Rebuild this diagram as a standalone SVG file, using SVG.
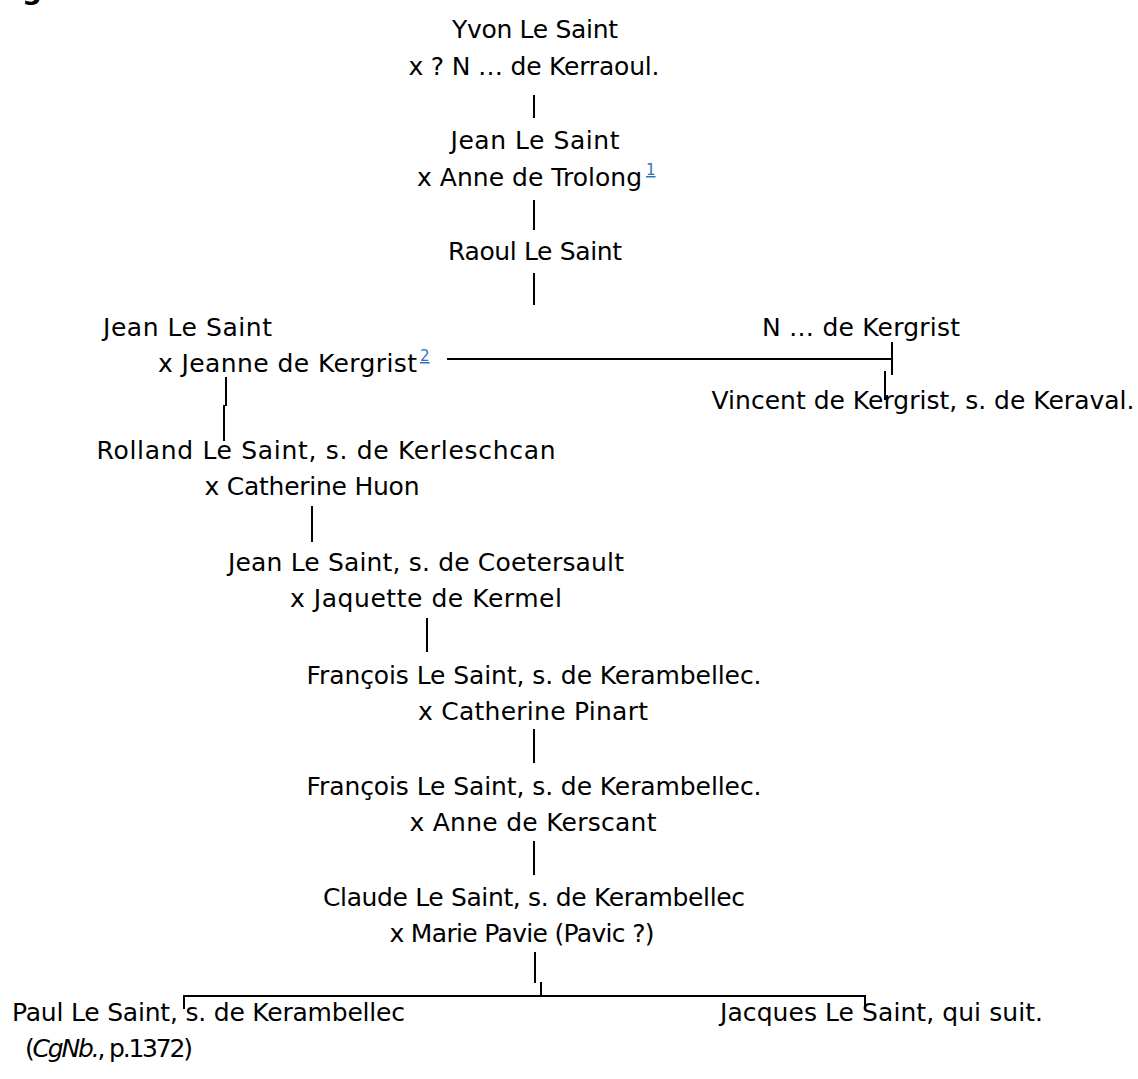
<svg xmlns="http://www.w3.org/2000/svg" width="1138" height="1079" viewBox="0 0 1138 1079">
<style>
  .t { font-family: "DejaVu Sans", "Liberation Sans", sans-serif; font-size: 25px; fill: #000; }
  .c { text-anchor: middle; }
  .sup { font-family: "DejaVu Sans", "Liberation Sans", sans-serif; font-size: 15px; fill: #2e74b5; text-decoration: underline; }
  .ln { stroke: #000; stroke-width: 2; fill: none; }
</style>
<rect width="1138" height="1079" fill="#fff"/>
<text class="t" x="22" y="-1" style="font-size:28px;font-weight:bold">g</text>

<g id="yvon"><text class="t c" x="535" y="38" textLength="166">Yvon Le Saint</text><text class="t c" x="534" y="75" textLength="251">x ? N … de Kerraoul.</text></g>
<g id="jean1"><text class="t c" x="535" y="149" textLength="169">Jean Le Saint</text><text class="t" x="417" y="186" textLength="225">x Anne de Trolong</text><text class="sup" x="646" y="175">1</text></g>
<g id="raoul"><text class="t c" x="535" y="260" textLength="174">Raoul Le Saint</text></g>
<g id="jean2"><text class="t" x="103" y="336" textLength="169">Jean Le Saint</text><text class="t" x="158" y="372" textLength="259">x Jeanne de Kergrist</text><text class="sup" x="420" y="361">2</text></g>
<g id="nkergrist"><text class="t c" x="861" y="336" textLength="198">N … de Kergrist</text></g>
<g id="vincent"><text class="t c" x="923" y="409" textLength="423">Vincent de Kergrist, s. de Keraval.</text></g>
<g id="rolland"><text class="t c" x="326" y="459" textLength="459">Rolland Le Saint, s. de Kerleschcan</text><text class="t c" x="312" y="495" textLength="215">x Catherine Huon</text></g>
<g id="jean3"><text class="t c" x="426" y="571" textLength="396">Jean Le Saint, s. de Coetersault</text><text class="t c" x="426" y="607" textLength="272">x Jaquette de Kermel</text></g>
<g id="francois1"><text class="t c" x="534" y="684" textLength="455">François Le Saint, s. de Kerambellec.</text><text class="t c" x="533" y="720" textLength="230">x Catherine Pinart</text></g>
<g id="francois2"><text class="t c" x="534" y="795" textLength="455">François Le Saint, s. de Kerambellec.</text><text class="t c" x="533" y="831" textLength="247">x Anne de Kerscant</text></g>
<g id="claude"><text class="t c" x="534" y="906" textLength="422">Claude Le Saint, s. de Kerambellec</text><text class="t c" x="522" y="942" textLength="265">x Marie Pavie (Pavic ?)</text></g>
<g id="paul"><text class="t" x="12" y="1021" textLength="393">Paul Le Saint, s. de Kerambellec</text><text class="t" x="25" y="1057" textLength="168">(<tspan font-style="italic">CgNb.</tspan>, p.1372)</text></g>
<g id="jacques"><text class="t" x="720" y="1021" textLength="323">Jacques Le Saint, qui suit.</text></g>

<g id="connectors">
  <line class="ln" x1="534" y1="95" x2="534" y2="118"/>
  <line class="ln" x1="534" y1="200" x2="534" y2="230"/>
  <line class="ln" x1="534" y1="273" x2="534" y2="305"/>
  <line class="ln" x1="226" y1="377" x2="226" y2="406"/>
  <line class="ln" x1="224" y1="405" x2="224" y2="441"/>
  <line class="ln" x1="447" y1="359" x2="892" y2="359"/>
  <line class="ln" x1="892" y1="342" x2="892" y2="375"/>
  <line class="ln" x1="885" y1="371" x2="885" y2="400"/>
  <line class="ln" x1="312" y1="506" x2="312" y2="542"/>
  <line class="ln" x1="427" y1="618" x2="427" y2="652"/>
  <line class="ln" x1="534" y1="729" x2="534" y2="763"/>
  <line class="ln" x1="534" y1="841" x2="534" y2="875"/>
  <line class="ln" x1="535" y1="952" x2="535" y2="983"/>
  <line class="ln" x1="541" y1="982" x2="541" y2="996"/>
  <line class="ln" x1="183" y1="996" x2="865" y2="996"/>
  <line class="ln" x1="184" y1="995" x2="184" y2="1009"/>
  <line class="ln" x1="865" y1="995" x2="865" y2="1009"/>
</g>
</svg>
